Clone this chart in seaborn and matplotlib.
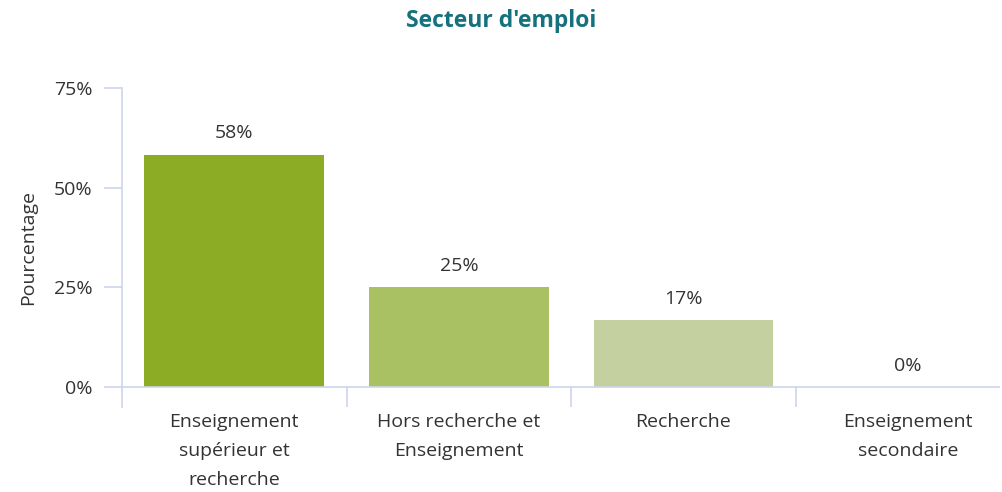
import matplotlib
matplotlib.use("Agg")
import matplotlib.pyplot as plt
import seaborn as sns
import pandas as pd

categories = ["Enseignement\nsupérieur et\nrecherche",
              "Hors recherche et\nEnseignement",
              "Recherche",
              "Enseignement\nsecondaire"]
values = [58.3, 25.0, 16.7, 0.0]
labels = ["58%", "25%", "17%", "0%"]
colors = ["#8bac24", "#a9c063", "#c5d0a1", "#dde4c8"]
yticks = [0, 25, 50, 75]

sns.set_theme(style="white")
plt.rcParams['font.family'] = ['Open Sans', 'DejaVu Sans']

axis_col = "#ccd6eb"
text_col = "#333333"
fs = 14

df = pd.DataFrame({"cat": categories, "val": values})

fig = plt.figure(figsize=(10.02, 4.92), dpi=100)
ax = fig.add_axes([122 / 1002, 1 - 407 / 492, 878 / 1002, 319 / 492])

sns.barplot(data=df, x="cat", y="val", hue="cat", palette=colors,
            width=0.8, legend=False, ax=ax, saturation=1, linewidth=0)

ax.set_xlim(-0.5, 3.41)
ax.set_ylim(-5, 75)

for spine in ["top", "right", "bottom"]:
    ax.spines[spine].set_visible(False)
ax.spines["left"].set_color(axis_col)
ax.spines["left"].set_linewidth(1.2)
ax.axhline(0, color=axis_col, lw=1.2, zorder=3)

ax.set_yticks(yticks)
ax.set_yticklabels([f"{t}%" for t in yticks], color=text_col, fontsize=fs)
ax.tick_params(axis="y", length=13, width=1.2, color=axis_col, pad=8, left=True)

# x: category labels without ticks, boundary ticks drawn as minor ticks
ax.set_xticks(range(len(categories)))
ax.set_xticklabels(categories, color=text_col, fontsize=fs, linespacing=1.8)
ax.tick_params(axis="x", which="major", length=0, pad=4)
ax.set_xticks([0.5, 1.5, 2.5], minor=True)
ax.tick_params(axis="x", which="minor", length=15, width=1.2, color=axis_col,
               direction="in", bottom=True)

ax.set_xlabel("")
ax.set_ylabel("Pourcentage", color=text_col, fontsize=fs, labelpad=12)

for i, (v, lab) in enumerate(zip(values, labels)):
    ax.annotate(lab, (i, v), xytext=(0, 9), textcoords="offset points",
                ha="center", va="bottom", fontsize=fs, color=text_col)

fig.text(0.5, 0.958, "Secteur d'emploi", ha="center", va="center",
         fontsize=16.5, fontweight="bold", color="#16717f")

fig.savefig("out.png", dpi=100)
